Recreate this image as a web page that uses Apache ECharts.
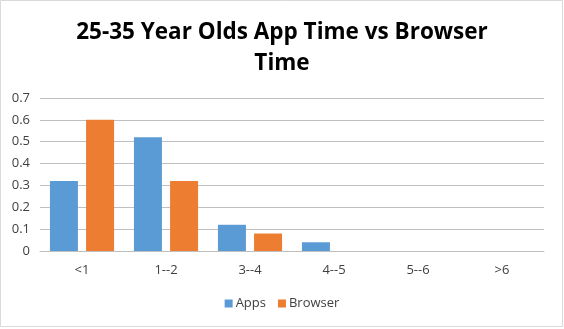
<!DOCTYPE html>
<html><head><meta charset="utf-8">
<script src="https://cdn.jsdelivr.net/npm/echarts@6/dist/echarts.min.js"></script>
<style>html,body{margin:0;padding:0;background:#fff}#c{width:564px;height:329px}</style>
</head><body><div id="c"></div>
<script>
var titleText = '25-35 Year Olds App Time vs Browser\nTime';
var categories = ['<1', '1--2', '3--4', '4--5', '5--6', '>6'];
var appsValues = [0.32, 0.52, 0.12, 0.04, 0, 0];
var browserValues = [0.60, 0.32, 0.08, 0, 0, 0];
var seriesNames = ['Apps', 'Browser'];

var chart = echarts.init(document.getElementById('c'), null, {renderer: 'canvas'});
chart.setOption({
  animation: false,
  textStyle: {fontFamily: 'Open Sans'},
  graphic: [{type: 'rect', shape: {x: 0.5, y: 0.5, width: 562, height: 326}, style: {fill: 'none', stroke: '#d9d9d9', lineWidth: 1}}],
  title: {
    text: titleText, left: 'center', top: 12,
    textStyle: {fontFamily: 'Open Sans', fontWeight: 'bold', fontSize: 22.5, color: '#000', lineHeight: 31}
  },
  legend: {
    data: seriesNames, bottom: 14, left: 'center', itemWidth: 8, itemHeight: 8, itemGap: 12,
    icon: 'rect', textStyle: {fontSize: 13, color: '#404040', padding: [0, 0, 0, -2]}
  },
  grid: {left: 40, right: 20, top: 98, bottom: 78},
  xAxis: {
    type: 'category', data: categories,
    axisLine: {lineStyle: {color: '#bfbfbf'}}, axisTick: {show: false},
    axisLabel: {fontSize: 13, color: '#404040', margin: 13}
  },
  yAxis: {
    type: 'value', min: 0, max: 0.7, interval: 0.1,
    axisLine: {show: false}, axisTick: {show: false},
    axisLabel: {fontSize: 13, color: '#404040', margin: 10, formatter: function(v){return String(Math.round(v*10)/10);}},
    splitLine: {lineStyle: {color: '#bfbfbf'}}
  },
  series: [
    {name: seriesNames[0], type: 'bar', data: appsValues, barWidth: 28, barGap: '29%', itemStyle: {color: '#5b9bd5'}},
    {name: seriesNames[1], type: 'bar', data: browserValues, barWidth: 28, itemStyle: {color: '#ed7d31'}}
  ]
});
</script></body></html>
